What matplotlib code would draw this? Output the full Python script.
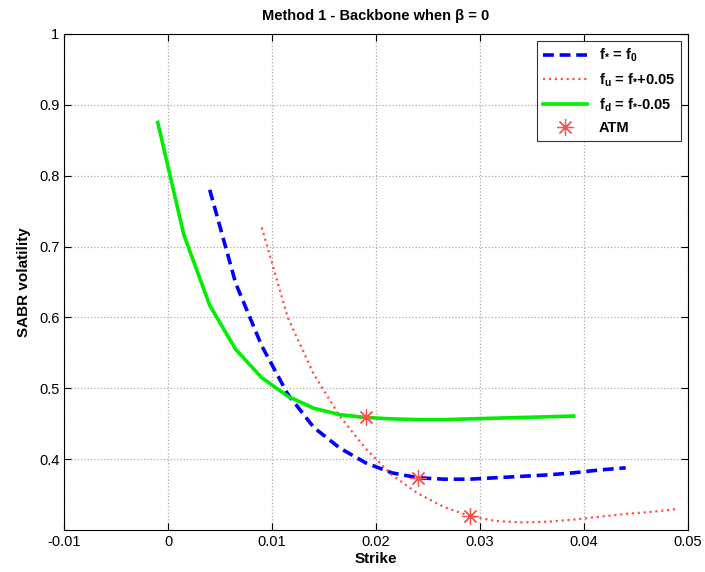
import numpy as np
import matplotlib
matplotlib.use("Agg")
import matplotlib.pyplot as plt

plt.rcParams['font.family'] = ['Liberation Sans', 'DejaVu Sans']
plt.rcParams['mathtext.fontset'] = 'custom'
plt.rcParams['mathtext.rm'] = 'Liberation Sans:bold'
plt.rcParams['mathtext.it'] = 'Liberation Sans:bold'
plt.rcParams['mathtext.default'] = 'rm'

# --- data (strikes in steps of 0.0025, +/-0.02 around each forward)
k_star = [0.004, 0.0065, 0.009, 0.0115, 0.014, 0.0165, 0.019, 0.0215, 0.024,
          0.0265, 0.029, 0.0315, 0.034, 0.0365, 0.039, 0.0415, 0.044]
v_star = [0.780, 0.648, 0.560, 0.492, 0.445, 0.416, 0.395, 0.381, 0.374,
          0.372, 0.372, 0.374, 0.376, 0.378, 0.381, 0.385, 0.388]

k_up = [0.009, 0.0115, 0.014, 0.0165, 0.019, 0.0215, 0.024, 0.0265, 0.029,
        0.0315, 0.034, 0.0365, 0.039, 0.0415, 0.044, 0.0465, 0.049]
v_up = [0.727, 0.600, 0.520, 0.461, 0.415, 0.378, 0.352, 0.333, 0.320,
        0.313, 0.311, 0.312, 0.315, 0.319, 0.323, 0.326, 0.330]

k_dn = [-0.001, 0.0015, 0.004, 0.0065, 0.009, 0.0115, 0.014, 0.0165, 0.019,
        0.0215, 0.024, 0.0265, 0.029, 0.0315, 0.034, 0.0365, 0.039]
v_dn = [0.875, 0.717, 0.617, 0.555, 0.515, 0.489, 0.472, 0.463, 0.459,
        0.457, 0.456, 0.456, 0.457, 0.458, 0.459, 0.460, 0.461]

atm_k = [0.024, 0.029, 0.019]
atm_v = [0.374, 0.320, 0.459]

xticks = [-0.01, 0, 0.01, 0.02, 0.03, 0.04, 0.05]
yticks = [0.4, 0.5, 0.6, 0.7, 0.8, 0.9, 1]

# --- figure
fig = plt.figure(figsize=(7.05, 5.72), dpi=100)
ax = fig.add_axes([0.091, 0.073, 0.885, 0.868])

ax.plot(k_star, v_star, '--', color='#0000ff', lw=2.6, dashes=(3, 1.6),
        label=r'f$_{*}$ = f$_0$')
ax.plot(k_up, v_up, ':', color='#ff3030', lw=1.6, alpha=0.85,
        label=r'f$_u$ = f$_{*}$+0.05')
ax.plot(k_dn, v_dn, '-', color='#00ee00', lw=2.6,
        label=r'f$_d$ = f$_{*}$-0.05')
ax.plot(atm_k, atm_v, ls='none', marker=(8, 2, 0), ms=12, mew=0.9,
        color='#ff5050', label='ATM')

ax.set_xlim(-0.01, 0.05)
ax.set_ylim(0.3, 1.0)
ax.set_xticks(xticks)
ax.set_xticklabels(['%g' % t for t in xticks])
ax.set_yticks(yticks)
ax.set_yticklabels(['%g' % t for t in yticks])
ax.tick_params(direction='in', length=5, labelsize=10.5, top=True, right=True)
ax.grid(True, ls=':', color='#aaaaaa', lw=0.9)

ax.set_title('Method 1 - Backbone when \u03b2 = 0', fontsize=10.5,
             fontweight='bold', pad=10)
ax.set_xlabel('Strike', fontsize=11, fontweight='bold', labelpad=2)
ax.set_ylabel('SABR volatility', fontsize=11, fontweight='bold', labelpad=6)

leg = ax.legend(loc='upper right', fancybox=False, edgecolor='black',
                prop={'weight': 'bold', 'size': 10.5}, handlelength=3,
                borderaxespad=0.5, labelspacing=0.5)
leg.get_frame().set_linewidth(0.8)

fig.savefig('out.png', dpi=100)
